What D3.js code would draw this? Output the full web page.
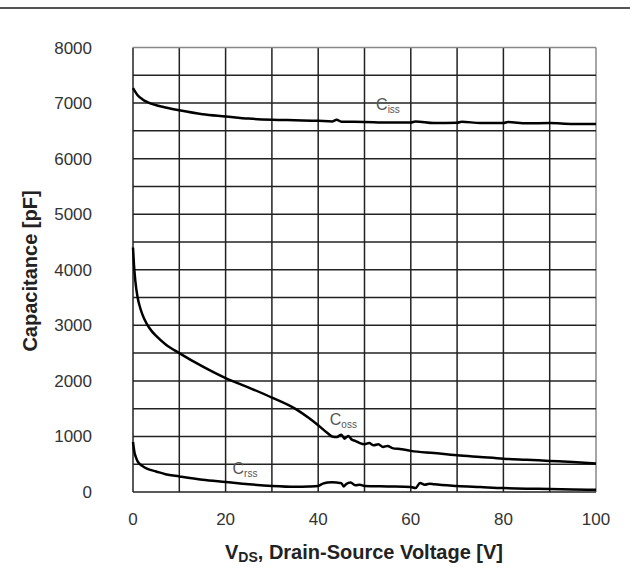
<html>
<head>
<meta charset="utf-8">
<style>
body { margin: 0; background: #fff; }
svg text { font-family: "Liberation Sans", Arial, sans-serif; }
</style>
</head>
<body>
<div id="vis"></div>
<script src="https://d3js.org/d3.v7.min.js"></script>
<script>

// values (V, pF)
var cissV = [0, 0.5, 1, 2, 3, 5, 7, 10, 15, 20, 25, 30, 35, 40, 43, 44, 45, 50, 55, 60, 61, 65, 70, 71, 75, 80, 81, 85, 90, 95, 100];
var cissC = [7270, 7200, 7140, 7070, 7020, 6960, 6920, 6870, 6800, 6760, 6720, 6700, 6690, 6680, 6670, 6700, 6665, 6660, 6650, 6650, 6670, 6640, 6645, 6665, 6640, 6640, 6660, 6635, 6640, 6625, 6625];

var cossV = [0, 0.2, 0.5, 1, 1.5, 2, 3, 4, 5, 7, 10, 15, 20, 25, 30, 35, 38, 40, 42, 43, 44, 45, 45.7, 46.5, 47.3, 48, 49, 50, 51, 52, 53, 54, 55, 56, 58, 60, 65, 70, 75, 80, 85, 90, 95, 100];
var cossC = [4400, 4100, 3800, 3500, 3330, 3200, 3020, 2900, 2810, 2660, 2500, 2260, 2050, 1880, 1700, 1500, 1330, 1200, 1060, 1000, 990, 1030, 960, 1010, 940, 920, 880, 860, 880, 840, 860, 810, 830, 790, 770, 740, 700, 660, 630, 600, 580, 560, 540, 515];

var crssV = [0, 0.3, 0.7, 1, 2, 3, 5, 7, 10, 15, 20, 25, 30, 35, 38, 40, 41, 42, 43, 44, 45, 45.5, 46, 47, 48, 49, 50, 55, 60, 61, 62, 63, 64, 65, 70, 75, 80, 85, 90, 95, 100];
var crssC = [900, 720, 610, 550, 470, 420, 370, 320, 280, 220, 180, 140, 110, 95, 100, 110, 150, 170, 175, 170, 160, 100, 140, 170, 120, 130, 110, 100, 90, 70, 160, 130, 150, 140, 110, 90, 70, 60, 55, 45, 40];

var xTicks = [0, 20, 40, 60, 80, 100];
var yTicks = [0, 1000, 2000, 3000, 4000, 5000, 6000, 7000, 8000];

var series = [
  { name: "iss", v: cissV, c: cissC, lx: 52.5, ly: 6880 },
  { name: "oss", v: cossV, c: cossC, lx: 42.5, ly: 1200 },
  { name: "rss", v: crssV, c: crssC, lx: 21.5, ly: 320 }
];

var W = 630, H = 585;
var x = d3.scaleLinear().domain([0, 100]).range([133, 596]);
var y = d3.scaleLinear().domain([0, 8000]).range([492, 47.5]);

var svg = d3.select("#vis").append("svg")
    .attr("width", W)
    .attr("height", H);

// top rule of the page
svg.append("line")
    .attr("x1", 0).attr("x2", W)
    .attr("y1", 8).attr("y2", 8)
    .attr("stroke", "#555").attr("stroke-width", 2);

// grid
svg.append("g").selectAll("line")
    .data(d3.range(0, 101, 10))
    .join("line")
    .attr("x1", d => x(d)).attr("x2", d => x(d))
    .attr("y1", y(0)).attr("y2", y(8000))
    .attr("stroke", d => d == 100 ? "#888" : "#222")
    .attr("stroke-width", 1.5);

svg.append("g").selectAll("line")
    .data(d3.range(0, 8001, 500))
    .join("line")
    .attr("x1", x(0)).attr("x2", x(100))
    .attr("y1", d => y(d)).attr("y2", d => y(d))
    .attr("stroke", d => d == 8000 ? "#888" : "#222")
    .attr("stroke-width", 1.5);

// tick labels
svg.append("g").selectAll("text")
    .data(yTicks)
    .join("text")
    .attr("x", 92).attr("y", d => y(d) + 6)
    .attr("text-anchor", "end")
    .attr("font-size", 17)
    .attr("fill", "#333")
    .text(d => d);

svg.append("g").selectAll("text")
    .data(xTicks)
    .join("text")
    .attr("x", d => x(d)).attr("y", 525)
    .attr("text-anchor", "middle")
    .attr("font-size", 17)
    .attr("fill", "#333")
    .text(d => d);

// axis titles
var xt = svg.append("text")
    .attr("x", 364).attr("y", 559)
    .attr("text-anchor", "middle")
    .attr("font-size", 20)
    .attr("font-weight", "bold")
    .attr("fill", "#222");
xt.append("tspan").text("V");
xt.append("tspan").attr("font-size", 14).attr("dy", 3).text("DS");
xt.append("tspan").attr("dy", -3).text(", Drain-Source Voltage [V]");

svg.append("text")
    .attr("transform", "translate(37,271) rotate(-90)")
    .attr("text-anchor", "middle")
    .attr("font-size", 20)
    .attr("font-weight", "bold")
    .attr("fill", "#222")
    .text("Capacitance [pF]");

// curves
var line = d3.line()
    .x(d => x(d[0]))
    .y(d => y(d[1]))
    .curve(d3.curveMonotoneX);

series.forEach(function(s) {
  var pts = s.v.map((v, i) => [v, s.c[i]]);
  svg.append("path")
      .datum(pts)
      .attr("d", line)
      .attr("fill", "none")
      .attr("stroke", "#000")
      .attr("stroke-width", 2.5);

  var t = svg.append("text")
      .attr("x", x(s.lx)).attr("y", y(s.ly))
      .attr("font-size", 16)
      .attr("fill", "#555");
  t.append("tspan").text("C");
  t.append("tspan").attr("font-size", 10).attr("dy", 3).text(s.name);
});

</script>
</body>
</html>
